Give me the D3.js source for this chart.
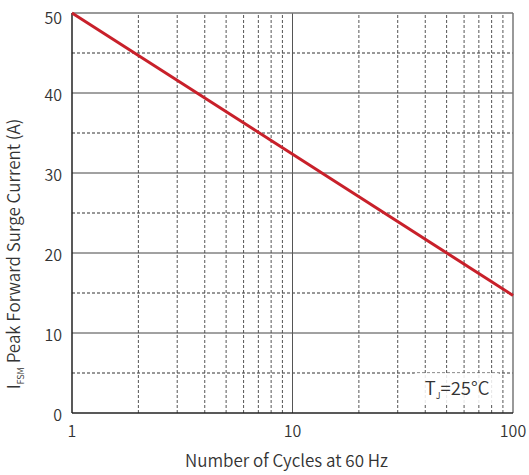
<!DOCTYPE html>
<html>
<head>
<meta charset="utf-8">
<script src="https://cdn.jsdelivr.net/npm/d3@7"></script>
<style>
  body { margin: 0; background: #fff; }
  text { font-family: "Noto Sans CJK SC", "Noto Sans", sans-serif; font-weight: 350; fill: #333; }
</style>
</head>
<body>
<div id="chart"></div>
<script>
const cycles = [1, 100];
const current = [50, 14.7];
const xTicks = [1, 10, 100];
const yTicks = [0, 10, 20, 30, 40, 50];
const yMinor = [5, 15, 25, 35, 45];
const xMinor = [2, 3, 4, 5, 6, 7, 8, 9, 20, 30, 40, 50, 60, 70, 80, 90];

const width = 529, height = 475;
const margin = {top: 13, right: 16, bottom: 62, left: 72};

const x = d3.scaleLog().domain([1, 100]).range([margin.left, width - margin.right]);
const y = d3.scaleLinear().domain([0, 50]).range([height - margin.bottom, margin.top]);

const svg = d3.select('#chart')
  .append('svg')
  .attr('width', width)
  .attr('height', height);

// minor dashed grid
svg.append('g').selectAll('line')
  .data(yMinor)
  .join('line')
  .attr('x1', x(1)).attr('x2', x(100))
  .attr('y1', d => y(d)).attr('y2', d => y(d))
  .attr('stroke', '#333').attr('stroke-width', 1)
  .attr('stroke-dasharray', '3,2');

svg.append('g').selectAll('line')
  .data(xMinor)
  .join('line')
  .attr('x1', d => x(d)).attr('x2', d => x(d))
  .attr('y1', y(0)).attr('y2', y(50))
  .attr('stroke', '#555').attr('stroke-width', 1)
  .attr('stroke-dasharray', '3,2');

// major grid
svg.append('g').selectAll('line')
  .data(yTicks.slice(1, -1))
  .join('line')
  .attr('x1', x(1)).attr('x2', x(100))
  .attr('y1', d => y(d)).attr('y2', d => y(d))
  .attr('stroke', '#444').attr('stroke-width', 1);

svg.append('line')
  .attr('x1', x(10)).attr('x2', x(10))
  .attr('y1', y(0)).attr('y2', y(50))
  .attr('stroke', '#555').attr('stroke-width', 1);

// annotation box, partly hides the grid
const note = svg.append('g').attr('transform', `translate(${x(34) + 5},${y(5)})`);
note.append('rect')
  .attr('x', 0).attr('y', 0).attr('width', 84).attr('height', 30)
  .attr('fill', '#fff').attr('fill-opacity', 0.85);
note.append('text')
  .attr('x', 10).attr('y', 22)
  .attr('font-size', 18.5)
  .html('T<tspan font-size="9" dy="4">J</tspan><tspan dy="-4">=25°C</tspan>');

// frame
svg.append('line')
  .attr('x1', x(1)).attr('x2', x(100)).attr('y1', y(50)).attr('y2', y(50))
  .attr('stroke', '#777').attr('stroke-width', 1.5);
svg.append('line')
  .attr('x1', x(100)).attr('x2', x(100)).attr('y1', y(0)).attr('y2', y(50))
  .attr('stroke', '#777').attr('stroke-width', 1.5);
svg.append('line')
  .attr('x1', x(1)).attr('x2', x(100)).attr('y1', y(0)).attr('y2', y(0))
  .attr('stroke', '#222').attr('stroke-width', 1.5);
svg.append('line')
  .attr('x1', x(1)).attr('x2', x(1)).attr('y1', y(0)).attr('y2', y(50))
  .attr('stroke', '#222').attr('stroke-width', 1.5);

// data line
svg.append('path')
  .datum(cycles.map((c, i) => [c, current[i]]))
  .attr('d', d3.line().x(d => x(d[0])).y(d => y(d[1])))
  .attr('fill', 'none')
  .attr('stroke', '#c8202a')
  .attr('stroke-width', 3);

// tick labels
svg.append('g').selectAll('text')
  .data(yTicks)
  .join('text')
  .attr('x', margin.left - 10)
  .attr('y', d => y(d) + (d === 50 ? 11 : 8))
  .attr('text-anchor', 'end')
  .attr('font-size', 16)
  .text(d => d);

svg.append('g').selectAll('text')
  .data(xTicks)
  .join('text')
  .attr('x', d => x(d))
  .attr('y', y(0) + 24)
  .attr('text-anchor', 'middle')
  .attr('font-size', 16)
  .text(d => d);

// axis titles
svg.append('text')
  .attr('x', x(10) - 6)
  .attr('y', 467)
  .attr('text-anchor', 'middle')
  .attr('font-size', 17)
  .text('Number of Cycles at 60 Hz');

svg.append('text')
  .attr('transform', 'translate(20,254) rotate(-90)')
  .attr('text-anchor', 'middle')
  .attr('font-size', 17)
  .html('I<tspan font-size="9" dy="4">FSM</tspan><tspan dy="-4"> Peak Forward Surge Current (A)</tspan>');
</script>
</body>
</html>
